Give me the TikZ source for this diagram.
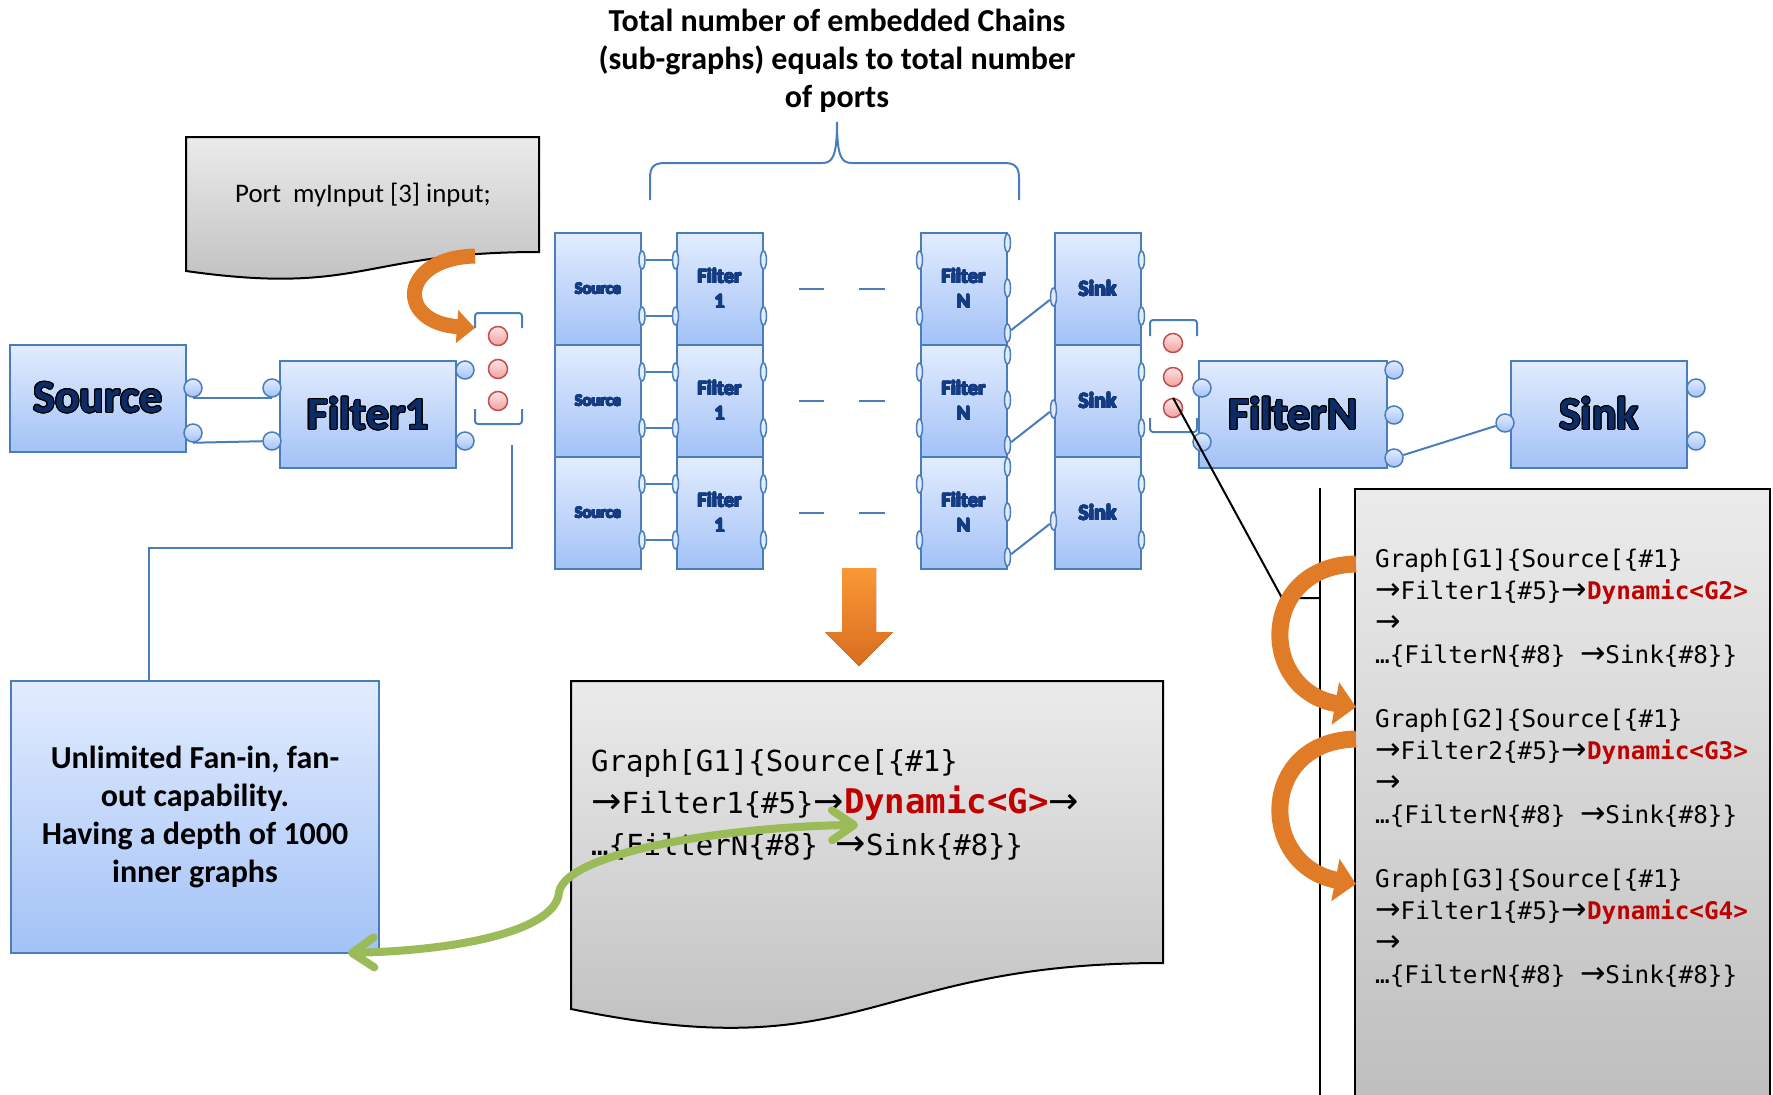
\documentclass[tikz,border=0pt]{standalone}
\usepackage{fontspec}
\usepackage{contour}
\setmainfont{Carlito}
\newfontfamily\codefont{DejaVu Sans Mono}
\newfontfamily\arrowfont{DejaVu Sans}[Scale=1.25]
\usetikzlibrary{positioning,arrows.meta,shapes.geometric,calc}
\definecolor{boxtop}{HTML}{E2ECFE}
\definecolor{boxbot}{HTML}{A3C2F7}
\definecolor{boxline}{HTML}{4A7EBB}
\definecolor{inkblue}{HTML}{0D2C66}
\definecolor{cellink}{HTML}{143C82}
\definecolor{dottop}{HTML}{FFE3E3}
\definecolor{dotbot}{HTML}{F2A0A0}
\definecolor{dotline}{HTML}{C0504D}
\definecolor{doctop}{HTML}{EBEBEB}
\definecolor{docbot}{HTML}{BDBDBD}
\definecolor{curlorange}{HTML}{E07B27}
\definecolor{arrtop}{HTML}{FA9835}
\definecolor{arrbot}{HTML}{D86D1F}
\definecolor{leaf}{HTML}{9BBB59}
\definecolor{codered}{HTML}{C00000}
\newcommand{\fsz}[2]{\fontsize{#1}{#2}\selectfont}
\newcommand{\dyn}[1]{\textcolor{codered}{\bfseries #1}}
\newcommand{\ra}{{\arrowfont →}}
\newcommand{\bigname}[1]{\contourlength{1.1pt}\contour{black}{#1}}
\newcommand{\heavy}[1]{\contourlength{0.6pt}\contour{cellink}{#1}}

\begin{document}
\begin{tikzpicture}[x=1pt,y=-1pt,
  blk/.style={draw=boxline,line width=2pt,top color=boxtop,bottom color=boxbot,minimum width=176pt,minimum height=107pt,inner sep=0pt,text=inkblue,font=\bfseries\fsz{46}{50}},
  cell/.style={draw=boxline,line width=2pt,top color=boxtop,bottom color=boxbot,minimum width=86pt,minimum height=112pt,inner sep=0pt,text=cellink,align=center},
  pin/.style={circle,draw=boxline,line width=1.5pt,top color=boxtop,bottom color=boxbot,minimum size=18pt,inner sep=0pt},
  tab/.style={ellipse,draw=boxline,line width=1.5pt,fill=boxtop,minimum width=6pt,minimum height=18pt,inner sep=0pt},
  reddot/.style={circle,draw=dotline,line width=1.5pt,top color=dottop,bottom color=dotbot,minimum size=19pt,inner sep=0pt},
  wire/.style={boxline,line width=2pt},
  paper/.style={draw=black,line width=2pt,top color=doctop,bottom color=docbot},
  curl/.style={curlorange,line width=15pt},
  code/.style={inner sep=0pt,align=left,anchor=west}
]
\useasboundingbox (0,0) rectangle (1773,1095);

% title and brace
\node[align=center,font=\bfseries\fsz{32}{38}] (title) at (837,61) {Total number of embedded Chains\\(sub-graphs) equals to total number\\of ports};
\draw[wire] (650,200) -- (650,178) .. controls (650,167) and (654,163) .. (665,163) -- (822,163) .. controls (832,163) and (837,158) .. (837,122)
  .. controls (837,158) and (842,163) .. (852,163) -- (1004,163) .. controls (1015,163) and (1019,167) .. (1019,178) -- (1019,200);

% port declaration note
\draw[paper] (186,137) -- (539,137) -- (539,252) .. controls (362,252) and (362,296) .. (186,271) -- cycle;
\node[font=\fsz{26.8}{30}] (portnote) at (363,195) {Port\ \ myInput [3] input;};

% outer chain
\node[blk] (source) at (98,398) {\bigname{Source}};
\node[blk] (filter1) at (368,414) {\bigname{Filter1}};
\node[blk,minimum width=188pt] (filterN) at (1293,414) {\bigname{FilterN}};
\node[blk] (sink) at (1599,414) {\bigname{Sink}};
\node[pin] (sp1) at (193,388) {};
\node[pin] (sp2) at (193,433) {};
\node[pin] (fp1) at (272,388) {};
\node[pin] (fp2) at (272,441) {};
\node[pin] (fq1) at (465,370) {};
\node[pin] (fq2) at (465,441) {};
\node[pin] (np1) at (1202,388) {};
\node[pin] (np2) at (1202,442) {};
\node[pin] (nq1) at (1394,370) {};
\node[pin] (nq2) at (1394,415) {};
\node[pin] (nq3) at (1394,458) {};
\node[pin] (kp) at (1505,423) {};
\node[pin] (kq1) at (1696,388) {};
\node[pin] (kq2) at (1696,441) {};
\draw[wire] (sp1.south) -- (fp1.south);
\draw[wire] (sp2.south) -- (fp2);
\draw[wire] (nq3) -- (kp);

% port arrays
\node[reddot] (p1) at (498,336) {};
\node[reddot] (p2) at (498,369) {};
\node[reddot] (p3) at (498,401) {};
\draw[wire,rounded corners=3pt] (475,328) |- (522,313) -- (522,328);
\draw[wire,rounded corners=3pt] (475,409) |- (522,424) -- (522,409);
\node[reddot] (q1) at (1173,343) {};
\node[reddot] (q2) at (1173,377) {};
\node[reddot] (q3) at (1173,408) {};
\draw[wire,rounded corners=3pt] (1150,336) |- (1197,320) -- (1197,336);
\draw[wire,rounded corners=3pt] (1150,418) |- (1197,432) -- (1197,418);

% embedded chains
\foreach \r/\yy in {1/289,2/401,3/513}{
  \node[cell,font=\bfseries\fsz{16.5}{18}] (src\r) at (598,\yy) {\heavy{Source}};
  \node[cell,font=\bfseries\fsz{20.5}{25}] (fa\r) at (719.5,\yy) {\heavy{Filter}\\\heavy{1}};
  \node[cell,font=\bfseries\fsz{20.5}{25}] (fn\r) at (963.5,\yy) {\heavy{Filter}\\\heavy{N}};
  \node[cell,font=\bfseries\fsz{22}{24}] (snk\r) at (1097.5,\yy) {\heavy{Sink}};
  \draw[wire] (799,\yy) -- (824,\yy) (859,\yy) -- (885,\yy);
  \node[tab] (sra\r) at ([yshift=29pt]src\r.east) {};
  \node[tab] (srb\r) at ([yshift=-27pt]src\r.east) {};
  \node[tab] (fla\r) at ([yshift=29pt]fa\r.west) {};
  \node[tab] (flb\r) at ([yshift=-27pt]fa\r.west) {};
  \node[tab] (fra\r) at ([yshift=29pt]fa\r.east) {};
  \node[tab] (frb\r) at ([yshift=-27pt]fa\r.east) {};
  \node[tab] (nla\r) at ([yshift=29pt]fn\r.west) {};
  \node[tab] (nlb\r) at ([yshift=-27pt]fn\r.west) {};
  \node[tab] (nra\r) at ([yshift=46pt]fn\r.east) {};
  \node[tab] (nrb\r) at ([yshift=1pt]fn\r.east) {};
  \node[tab] (nrc\r) at ([yshift=-44pt]fn\r.east) {};
  \node[tab] (kl\r) at ([yshift=-8pt]snk\r.west) {};
  \node[tab] (kra\r) at ([yshift=29pt]snk\r.east) {};
  \node[tab] (krb\r) at ([yshift=-27pt]snk\r.east) {};
  \draw[wire] (sra\r) -- (fla\r);
  \draw[wire] (srb\r) -- (flb\r);
  \draw[wire] (nrc\r) -- (kl\r);
}

% fan-in note
\node[draw=boxline,line width=2pt,top color=boxtop,bottom color=boxbot,minimum width=368pt,minimum height=272pt,align=center,font=\bfseries\fsz{32}{38}] (fanin) at (195,817)
  {Unlimited Fan-in, fan-\\out capability.\\Having a depth of 1000\\inner graphs};
\coordinate (tail) at (512,445);
\coordinate (fantop) at (149,681);
\draw[wire] (tail) -- ++(0,103) -| (fantop);

% expanded graph
\fill[top color=arrtop,bottom color=arrbot] (842,568) -- (876,568) -- (876,632) -- (893,632) -- (859,666) -- (825,632) -- (842,632) -- cycle;
\draw[paper] (571,681) -- (1163,681) -- (1163,963) .. controls (867,963) and (867,1070) .. (571,1009) -- cycle;
\node[code,font=\codefont\fsz{29}{42}] (gmain) at (591,805) {Graph[G1]\{Source[\{\#1\}\\
\ra Filter1\{\#5\}\ra\dyn{\fsz{34}{42}Dynamic<G>}\ra\\
…\{FilterN\{\#8\} \ra Sink\{\#8\}\}};
\coordinate (gright) at (858,825);
\coordinate (gleft) at (348,953);
\draw[leaf,line width=8pt,{Straight Barb[length=22pt,width=30pt,round]}-{Straight Barb[length=22pt,width=30pt,round]}]
  (gleft) .. controls (470,950) and (557,928) .. (559,892) .. controls (568,850) and (740,826) .. (gright);

% nested graphs
\coordinate (callout) at (1282,598);
\coordinate (rail) at (1320,488);
\draw[black,line width=2pt] (q3.north) -- (callout) -- (callout -| rail);
\draw[black,line width=2pt] (rail) -- ++(0,620);
\draw[paper] (1355,489) rectangle (1770,1120);
\node[code,font=\codefont\fsz{24.3}{32}] (gnest) at (1375,768) {Graph[G1]\{Source[\{\#1\}\\
\ra Filter1\{\#5\}\ra\dyn{Dynamic<G2>}\\
\ra\\
…\{FilterN\{\#8\} \ra Sink\{\#8\}\}\\[32pt]
Graph[G2]\{Source[\{\#1\}\\
\ra Filter2\{\#5\}\ra\dyn{Dynamic<G3>}\\
\ra\\
…\{FilterN\{\#8\} \ra Sink\{\#8\}\}\\[32pt]
Graph[G3]\{Source[\{\#1\}\\
\ra Filter1\{\#5\}\ra\dyn{Dynamic<G4>}\\
\ra\\
…\{FilterN\{\#8\} \ra Sink\{\#8\}\}};

% orange curls
\coordinate (ptail) at (475,256);
\coordinate (pin-in) at (475,328);
\draw[curl,-{Triangle[length=18pt,width=32pt]}] (ptail) .. controls (400,258) and (395,322) .. (pin-in);
\coordinate (c1) at (1356,564);
\coordinate (c2) at (1356,707);
\coordinate (c3) at (1356,739);
\coordinate (c4) at (1356,884);
\draw[curl,line width=17pt,-{Triangle[length=21pt,width=42pt]}] (c1) .. controls (1258,566) and (1258,690) .. (c2);
\draw[curl,line width=17pt,-{Triangle[length=21pt,width=42pt]}] (c3) .. controls (1258,741) and (1258,865) .. (c4);
\end{tikzpicture}
\end{document}
